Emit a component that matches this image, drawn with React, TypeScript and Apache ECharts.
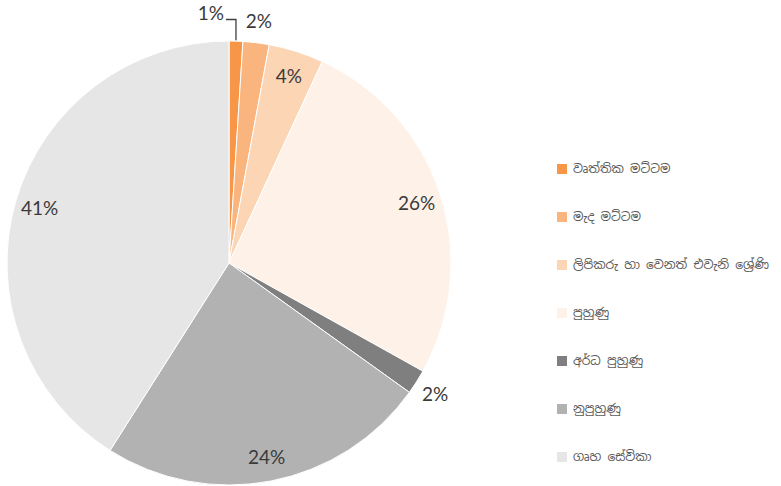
import React, { useEffect, useRef } from "react";
import * as echarts from "echarts";

const categories = [
  "වෘත්තික මට්ටම",
  "මැද මට්ටම",
  "ලිපිකරු හා වෙනත් එවැනි ශ්‍රේණි",
  "පුහුණු",
  "අර්ධ පුහුණු",
  "නුපුහුණු",
  "ගෘහ සේවිකා",
];
const values = [1.0, 1.9, 4.0, 26.2, 1.8, 24.1, 41.0];
const palette = ["#F79646", "#FAB57F", "#FCD5B5", "#FEF1E8", "#7F7F7F", "#B3B2B2", "#E6E6E6"];
const leaderIndex = 0;
const outsideThreshold = 3;

const CENTER: [number, number] = [229, 263];
const R = 222;
const labelFont = "Lato, 'Open Sans', sans-serif";

export default function App() {
  const ref = useRef<HTMLDivElement>(null);
  useEffect(() => {
    if (!ref.current) return;
    const chart = echarts.init(ref.current, null, { renderer: "svg" });
    const total = values.reduce((a, b) => a + b, 0);
    const pct = (v: number) => (v / total) * 100;
    const pctText = (p: any) => Math.round(p.percent) + "%";

    const mainData = categories.map((name, i) => ({
      name,
      value: values[i],
      label: { show: i === leaderIndex },
      labelLine: { show: i === leaderIndex },
    }));
    const insideData = categories.map((name, i) => ({
      name,
      value: values[i],
      label: { show: pct(values[i]) >= outsideThreshold },
    }));
    const outerData = categories.map((name, i) => ({
      name,
      value: values[i],
      label: { show: pct(values[i]) < outsideThreshold && i !== leaderIndex },
    }));

    const labelStyle = {
      fontFamily: labelFont,
      fontSize: 19,
      color: "#3a3a3a",
      formatter: pctText,
    };

    chart.setOption({
      animation: false,
      color: palette,
      legend: {
        orient: "vertical",
        left: 550,
        top: 157,
        itemWidth: 12,
        itemHeight: 12,
        itemGap: 34,
        icon: "rect",
        selectedMode: false,
        data: categories,
        textStyle: {
          fontFamily: "'Noto Sans Sinhala', 'Noto Sans', sans-serif",
          fontSize: 12.3,
          color: "#595959",
        },
      },
      series: [
        {
          type: "pie",
          center: CENTER,
          radius: [0, R],
          startAngle: 90,
          clockwise: true,
          silent: true,
          itemStyle: { borderColor: "#ffffff", borderWidth: 1 },
          label: { ...labelStyle, position: "outside" },
          labelLine: { lineStyle: { color: "#404040", width: 1.3 } },
          labelLayout: (params: any) => {
            if (params.dataIndex !== leaderIndex) return {};
            const r = params.rect;
            const x0 = r.x + r.width / 2;
            const top = r.y;
            return {
              x: x0 - 12,
              y: top - 28,
              align: "right",
              verticalAlign: "middle",
              labelLinePoints: [
                [x0, top],
                [x0, top - 21],
                [x0 - 10, top - 21],
              ],
            };
          },
          data: mainData,
        },
        {
          type: "pie",
          center: CENTER,
          radius: [R * 0.75, R],
          startAngle: 90,
          clockwise: true,
          silent: true,
          itemStyle: { color: "transparent", borderWidth: 0 },
          label: { ...labelStyle, position: "inside" },
          labelLine: { show: false },
          data: insideData,
        },
        {
          type: "pie",
          center: CENTER,
          radius: [R, R + 38],
          startAngle: 90,
          clockwise: true,
          silent: true,
          itemStyle: { color: "transparent", borderWidth: 0 },
          label: { ...labelStyle, position: "inside" },
          labelLine: { show: false },
          data: outerData,
        },
      ],
    });
    return () => chart.dispose();
  }, []);
  return (
    <div
      ref={ref}
      style={{ position: "fixed", left: 0, top: 0, width: 781, height: 486, background: "#fff" }}
    />
  );
}
